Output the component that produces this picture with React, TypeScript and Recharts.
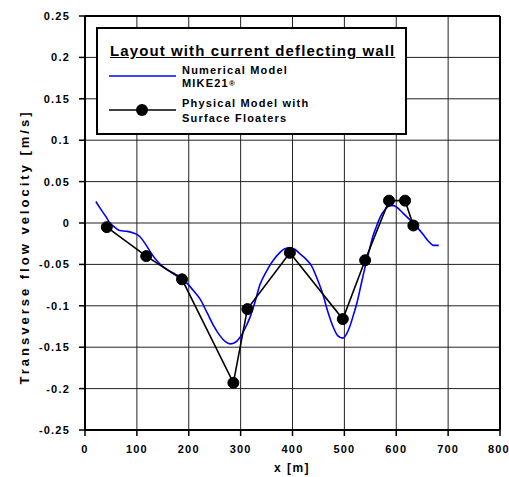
import { CartesianGrid, ComposedChart, Legend, Line, XAxis, YAxis } from "recharts";

// Numerical model (MIKE21)
const numX = [21, 30, 40, 48, 57, 67, 80, 93, 105, 115, 125, 135, 145, 160, 175, 187, 200, 212, 222, 235, 247, 260, 270, 280, 290, 299, 308, 318, 327, 337, 350, 363, 375, 385, 395, 405, 414, 425, 437, 448, 459, 468, 478, 487, 497, 505, 511, 518, 524, 532, 540, 548, 555, 562, 569, 578, 588, 595, 601, 613, 626, 640, 652, 662, 672, 682];
const numY = [0.026, 0.017, 0.008, 0.0, -0.005, -0.009, -0.01, -0.012, -0.016, -0.024, -0.034, -0.043, -0.05, -0.057, -0.062, -0.067, -0.075, -0.084, -0.092, -0.108, -0.123, -0.136, -0.143, -0.146, -0.144, -0.138, -0.128, -0.114, -0.097, -0.075, -0.058, -0.045, -0.036, -0.031, -0.03, -0.032, -0.037, -0.043, -0.052, -0.068, -0.087, -0.107, -0.125, -0.136, -0.139, -0.133, -0.124, -0.11, -0.097, -0.075, -0.053, -0.033, -0.016, -0.004, 0.007, 0.016, 0.021, 0.021, 0.019, 0.012, 0.004, -0.005, -0.014, -0.022, -0.027, -0.027];

// Physical model with surface floaters
const physX = [42, 118, 187, 286, 313, 395, 497, 540, 586, 617, 633];
const physY = [-0.005, -0.04, -0.068, -0.193, -0.104, -0.036, -0.116, -0.045, 0.027, 0.027, -0.003];

const xTicks = [0, 100, 200, 300, 400, 500, 600, 700, 800];
const xMinor = [50, 150, 250, 350, 450, 550, 650, 750];
const yTicks = [-0.25, -0.2, -0.15, -0.1, -0.05, 0, 0.05, 0.1, 0.15, 0.2, 0.25];
const yMinor = [-0.225, -0.175, -0.125, -0.075, -0.025, 0.025, 0.075, 0.125, 0.175, 0.225];

const numerical = numX.map((x, i) => ({ x, y: numY[i] }));
const physical = physX.map((x, i) => ({ x, y: physY[i] }));

const FONT = "'Liberation Sans', Arial, sans-serif";
const tickStyle = { fontSize: 11, fontWeight: 700, fill: "#000", fontFamily: FONT, letterSpacing: 1.2 };
const tickLine = { stroke: "#000", strokeWidth: 1.5 };
const blank = () => "";

function LegendBox() {
  const text = { position: "absolute" as const, fontSize: 11, letterSpacing: 1.2, lineHeight: "11px", whiteSpace: "nowrap" as const };
  return (
    <div style={{ position: "relative", width: 311, height: 108, boxSizing: "border-box", border: "2px solid #000", background: "#fff", fontFamily: FONT, fontWeight: 700, color: "#000" }}>
      <div style={{ position: "absolute", left: 12, top: 14, fontSize: 15, lineHeight: "15px", letterSpacing: 1.1, textDecoration: "underline", whiteSpace: "nowrap" }}>
        Layout with current deflecting wall
      </div>
      <svg width={80} height={60} style={{ position: "absolute", left: 11, top: 40 }}>
        <line x1={0} x2={67} y1={7} y2={7} stroke="#0000ff" strokeWidth={1.6} />
        <line x1={0} x2={67} y1={41} y2={41} stroke="#000" strokeWidth={1.6} />
        <circle cx={33} cy={41} r={6} fill="#000" />
      </svg>
      <div style={{ ...text, left: 84, top: 36 }}>Numerical Model</div>
      <div style={{ ...text, left: 84, top: 49 }}>
        MIKE21<span style={{ fontSize: 8, verticalAlign: "1px" }}>®</span>
      </div>
      <div style={{ ...text, left: 84, top: 69 }}>Physical Model with</div>
      <div style={{ ...text, left: 84, top: 84 }}>Surface Floaters</div>
    </div>
  );
}

export default function App() {
  return (
    <div style={{ position: "absolute", left: 0, top: 0, width: 509, height: 477, background: "#fff" }}>
      <ComposedChart width={509} height={477} margin={{ top: 12, right: 5, bottom: 0, left: 0 }}>
        <CartesianGrid stroke="#222" strokeWidth={1} />
        <XAxis
          type="number"
          dataKey="x"
          domain={[0, 800]}
          ticks={xTicks}
          allowDataOverflow
          height={47}
          tickSize={6}
          tickMargin={9}
          tick={tickStyle}
          tickLine={tickLine}
          axisLine={{ stroke: "#000", strokeWidth: 2 }}
          label={{
            content: () => (
              <text x={292} y={472} textAnchor="middle" fontFamily={FONT} fontWeight={700} fontSize={12} letterSpacing={1.5} fill="#000">
                x [m]
              </text>
            ),
          }}
        />
        <XAxis xAxisId="top" orientation="top" type="number" dataKey="x" domain={[0, 800]} ticks={xTicks} height={4} tickSize={4} tickFormatter={blank} tickLine={tickLine} axisLine={{ stroke: "#000", strokeWidth: 2 }} />
        <XAxis xAxisId="topMinor" orientation="top" mirror type="number" dataKey="x" domain={[0, 800]} ticks={xMinor} height={1} tickSize={6} tickFormatter={blank} tickLine={tickLine} axisLine={false} />
        <XAxis xAxisId="bottomMinor" orientation="bottom" mirror type="number" dataKey="x" domain={[0, 800]} ticks={xMinor} height={1} tickSize={4} tickFormatter={blank} tickLine={tickLine} axisLine={false} />
        <YAxis
          type="number"
          domain={[-0.25, 0.25]}
          ticks={yTicks}
          allowDataOverflow
          width={85}
          tickSize={6}
          tickMargin={9}
          tick={tickStyle}
          tickFormatter={(v: number) => String(Number(v.toFixed(3)))}
          tickLine={tickLine}
          axisLine={{ stroke: "#000", strokeWidth: 2 }}
          label={{
            content: () => (
              <text x={29} y={247} transform="rotate(-90 29 247)" textAnchor="middle" fontFamily={FONT} fontWeight={700} fontSize={13} letterSpacing={3} fill="#000">
                Transverse flow velocity [m/s]
              </text>
            ),
          }}
        />
        <YAxis yAxisId="right" orientation="right" type="number" domain={[-0.25, 0.25]} ticks={yTicks} width={4} tickSize={4} tickFormatter={blank} tickLine={tickLine} axisLine={{ stroke: "#000", strokeWidth: 2 }} />
        <YAxis yAxisId="leftMinor" orientation="left" mirror type="number" domain={[-0.25, 0.25]} ticks={yMinor} width={1} tickSize={5} tickFormatter={blank} tickLine={tickLine} axisLine={false} />
        <YAxis yAxisId="rightMinor" orientation="right" mirror type="number" domain={[-0.25, 0.25]} ticks={yMinor} width={1} tickSize={6} tickFormatter={blank} tickLine={tickLine} axisLine={false} />
        <Legend
          layout="vertical"
          align="center"
          verticalAlign="middle"
          wrapperStyle={{ left: 96, top: 27, width: 311, height: 108 }}
          content={() => <LegendBox />}
        />
        <Line data={numerical} dataKey="y" type="monotone" stroke="#0000ff" strokeWidth={1.6} dot={false} isAnimationActive={false} name="Numerical Model MIKE21®" />
        <Line data={physical} dataKey="y" type="linear" stroke="#000" strokeWidth={1.6} dot={{ r: 5.5, fill: "#000", stroke: "#000", strokeWidth: 1 }} isAnimationActive={false} name="Physical Model with Surface Floaters" />
      </ComposedChart>
    </div>
  );
}
